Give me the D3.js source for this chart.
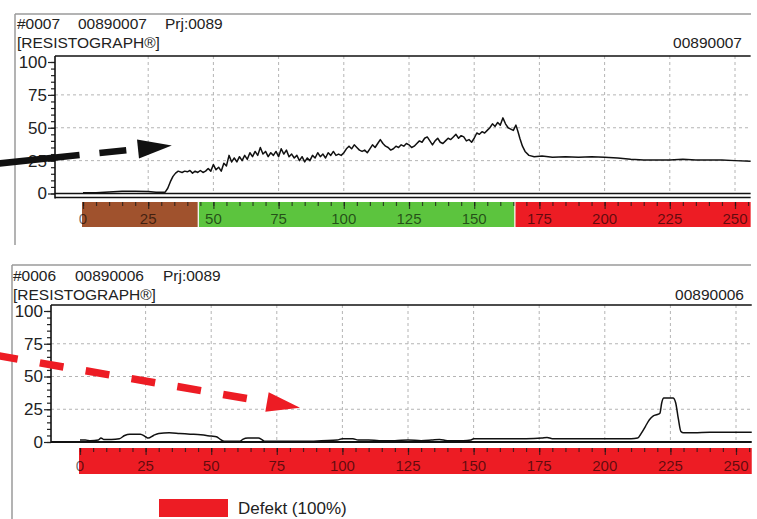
<!DOCTYPE html>
<html>
<head>
<meta charset="utf-8">
<script src="https://cdn.jsdelivr.net/npm/d3@7"></script>
<style>
  body { margin: 0; background: #fff; }
  svg { display: block; font-family: "Liberation Sans", Arial, sans-serif; }
</style>
</head>
<body>
<svg id="chart" width="757" height="519"></svg>
<script>
// ---------- data ----------
const yTickLabels = [0, 25, 50, 75, 100];
const depthTickLabels = [0, 25, 50, 75, 100, 125, 150, 175, 200, 225, 250];
const drillEnd = 256;

const deviceLabel = "[RESISTOGRAPH\u00AE]";
const header0007 = ["#0007", "00890007", "Prj:0089"];
const header0006 = ["#0006", "00890006", "Prj:0089"];

// assessment zones along the drilling depth: [from, to, kind]
const zones0007 = [[0, 44.2, "soft"], [44.2, 165.6, "sound"], [165.6, 256, "defect"]];
const zones0006 = [[0, 256, "defect"]];

// drilling resistance profiles: [depth, amplitude %]
const profile0007 = [
  [0,0.5],[5,0.5],[10,1.2],[15,1.8],[20,1.8],[25,1.5],[28,1],[31.5,1],[32.5,4],[33.5,9],
  [34.5,13],[35.5,15.5],[36.5,17],[38,16],[39,17],[40,16.5],[41,17.5],[42,15.5],[43,17],[44,16],
  [45,17.5],[46,16],[47,17],[48,19],[49,17],[50,22],[51,18],[52,20],[53,17],[54,23],
  [55,21],[56,29],[57,24],[58,27],[59,24],[60,28],[61,25],[62,29],[63,26],[64,31],
  [65,28],[66,32],[67,29],[68,35],[69,30],[70,32],[71,28],[72,31],[73,29],[74,32],
  [75,28],[76,34],[77,30],[78,33],[79,28],[80,30],[81,27],[82,29],[83,25],[84,28],
  [85,24],[86,27],[87,25],[88,29],[89,27],[90,31],[91,28],[92,30],[93,27],[94,31],
  [95,29],[96,32],[97,29],[98,30],[99,29],[100,31],[101,34],[102,36],[103,34],[104,37],
  [105,35],[106,33],[107,32],[108,33],[109,31],[110,34],[111,37],[112,35],[113,38],[114,41],
  [115,38],[116,36],[117,35],[118,33],[119,34],[120,36],[121,35],[122,37],[123,36],[124,38],
  [125,37],[126,35],[127,36],[128,38],[129,40],[130,39],[131,42],[132,43],[133,40],[134,37],
  [135,40],[136,42],[137,39],[138,38],[139,40],[140,42],[141,41],[142,43],[143,45],[144,42],
  [145,44],[146,43],[147,40],[148,41],[149,39],[150,42],[151,46],[152,45],[153,47],[154,46],
  [155,48],[156,50],[157,53],[158,51],[159,54],[160,52],[161,57.5],[162,53],[163,50],[164,49],
  [165,48],[166,52],[166.8,47],[167.5,42],[168.5,36],[169.5,32],[171,29],[173,28],[176,28.5],[180,27.5],
  [185,28],[190,27.5],[195,28],[200,27.5],[205,27],[210,26],[215,25.5],[220,25.5],[225,25.5],[230,26],
  [235,25.5],[240,25.5],[245,25.5],[250,25],[256,24.5]
];

const profile0006 = [
  [0,1.5],[2,1.5],[4,1],[7,1.5],[8,3],[9,2],[12,2],[15,2.5],[17,5],[19,6],
  [23,6],[25,4],[26,3],[28,5],[30,6.5],[34,7],[38,6.5],[42,6],[46,5.5],[50,4.5],
  [52,4],[53.5,2],[55,0.5],[61,0.5],[62,2],[64,3],[68,3],[69.5,1.5],[70.5,0.5],[88,0.5],
  [92,1],[98,1.5],[100,2.5],[104,2.5],[106,1.5],[110,1.5],[114,1],[120,1],[125,1.5],[130,1],
  [134,1.5],[137,2],[140,1],[146,1],[149,1.5],[150,2.5],[160,2.5],[170,2.5],[176,3],[178,3.5],
  [180,2.5],[195,2.5],[210,2.5],[212.5,3],[214,7],[215.5,12],[217,17],[218.5,20],[220,21],[221,22],
  [221.7,30],[222.5,33.5],[226,33.5],[227,30],[228,18],[229,8],[230,7],[234,7],[240,7.5],[250,7.5],
  [256,7.5]
];

const legendItems = [["defect", "Defekt (100%)"]];

// ---------- styles ----------
const zoneColor = { soft: "#a0522d", sound: "#5cc43e", defect: "#ed1c24" };
const gridColor = "#b4b4b4";
const frameColor = "#9a9a9a";
const inkColor = "#222";

// ---------- layout ----------
const panels = [
  {
    header: header0007, profile: profile0007, zones: zones0007, smooth: false,
    frameTop: 14, frameLeft: 15, frameRight: 751, frameBottom: 245,
    headX: [17, 78, 165], headY1: 29, headY2: 48, idRight: 742,
    axisX: 55, plotTop: 56, xRange: [83, 735], yRange: [193.5, 62],
    doubleBase: true, barTop: 202, barBottom: 227, barLabelY: 224
  },
  {
    header: header0006, profile: profile0006, zones: zones0006, smooth: true,
    frameTop: 265, frameLeft: 12, frameRight: 751, frameBottom: 519,
    headX: [13, 75, 163], headY1: 281, headY2: 300, idRight: 744,
    axisX: 51, plotTop: 305, xRange: [80, 736], yRange: [442, 311],
    doubleBase: false, barTop: 448, barBottom: 474, barLabelY: 471
  }
];

const svg = d3.select("#chart");

function drawPanel(p) {
  const g = svg.append("g");
  const x = d3.scaleLinear().domain([0, 250]).range(p.xRange);
  const y = d3.scaleLinear().domain([0, 100]).range(p.yRange);
  const right = x(drillEnd);
  const y0 = y(0);

  // outer frame (top and left edges)
  g.append("line").attr("x1", p.frameLeft).attr("x2", p.frameRight)
    .attr("y1", p.frameTop).attr("y2", p.frameTop)
    .attr("stroke", frameColor).attr("stroke-width", 1.5);
  g.append("line").attr("x1", p.frameLeft).attr("x2", p.frameLeft)
    .attr("y1", p.frameTop).attr("y2", p.frameBottom)
    .attr("stroke", frameColor).attr("stroke-width", 1.5);

  // header lines
  const head = g.append("g").attr("fill", inkColor).style("font-size", "15.5px");
  p.header.forEach((t, i) => head.append("text").attr("x", p.headX[i]).attr("y", p.headY1).text(t));
  head.append("text").attr("x", p.headX[0]).attr("y", p.headY2).text(deviceLabel);
  head.append("text").attr("x", p.idRight).attr("y", p.headY2)
    .attr("text-anchor", "end").text(p.header[1]);

  // grid
  const grid = g.append("g").attr("stroke", gridColor).attr("stroke-width", 1)
    .attr("stroke-dasharray", "3,3");
  grid.selectAll("line.h").data(yTickLabels.filter(v => v > 0 && v < 100)).join("line")
    .attr("x1", p.axisX).attr("x2", right)
    .attr("y1", d => y(d)).attr("y2", d => y(d));
  grid.selectAll("line.v").data(depthTickLabels.filter(v => v > 0)).join("line")
    .attr("x1", d => x(d)).attr("x2", d => x(d))
    .attr("y1", p.plotTop).attr("y2", y0);

  // y axis: minor and major ticks
  const minorY = g.append("g").attr("transform", `translate(${p.axisX},0)`)
    .call(d3.axisLeft(y).tickValues(d3.range(0, 101, 5)).tickSize(4).tickFormat(""));
  const majorY = g.append("g").attr("transform", `translate(${p.axisX},0)`)
    .call(d3.axisLeft(y).tickValues(yTickLabels).tickSize(7).tickPadding(1));
  [minorY, majorY].forEach(a => {
    a.select(".domain").remove();
    a.selectAll("line").attr("stroke", inkColor).attr("stroke-width", 1.2);
  });
  majorY.selectAll("text").attr("fill", inkColor).style("font-size", "17px")
    .style("font-family", "'Liberation Sans', Arial, sans-serif");

  // plot frame
  g.append("line").attr("x1", p.axisX).attr("x2", right)
    .attr("y1", p.plotTop).attr("y2", p.plotTop)
    .attr("stroke", "#111").attr("stroke-width", 1.6);
  g.append("line").attr("x1", p.axisX).attr("x2", p.axisX)
    .attr("y1", p.plotTop).attr("y2", y0 + (p.doubleBase ? 5 : 1))
    .attr("stroke", "#111").attr("stroke-width", 1.6);
  g.append("line").attr("x1", p.axisX).attr("x2", right)
    .attr("y1", y0).attr("y2", y0)
    .attr("stroke", "#111").attr("stroke-width", p.doubleBase ? 1.3 : 2);
  if (p.doubleBase) {
    g.append("line").attr("x1", p.axisX).attr("x2", right)
      .attr("y1", y0 + 4).attr("y2", y0 + 4)
      .attr("stroke", "#111").attr("stroke-width", 1.5);
  }

  // resistance profile
  const line = d3.line()
    .x(d => x(d[0])).y(d => y(d[1]))
    .curve(p.smooth ? d3.curveMonotoneX : d3.curveLinear);
  g.append("path").datum(p.profile).attr("d", line)
    .attr("fill", "none").attr("stroke", "#111").attr("stroke-width", 1.5)
    .attr("stroke-linejoin", "round");

  // assessment bar
  g.append("g").selectAll("rect").data(p.zones).join("rect")
    .attr("x", d => x(d[0]) - (d[0] === 0 ? 1 : 0))
    .attr("y", p.barTop)
    .attr("width", d => x(d[1]) - x(d[0]) + (d[0] === 0 ? 1 : 0))
    .attr("height", p.barBottom - p.barTop)
    .attr("fill", d => zoneColor[d[2]]);
  // zone separators
  g.append("g").selectAll("line").data(p.zones.slice(1)).join("line")
    .attr("x1", d => x(d[0])).attr("x2", d => x(d[0]))
    .attr("y1", p.barTop).attr("y2", p.barBottom)
    .attr("stroke", "#fff").attr("stroke-width", 1.2);

  const minorX = g.append("g").attr("transform", `translate(0,${p.barTop})`)
    .call(d3.axisBottom(x).tickValues(d3.range(0, drillEnd, 5)).tickSize(4).tickFormat(""));
  const majorX = g.append("g").attr("transform", `translate(0,${p.barTop})`)
    .call(d3.axisBottom(x).tickValues(depthTickLabels).tickSize(7).tickFormat(""));
  [minorX, majorX].forEach(a => {
    a.select(".domain").remove();
    a.selectAll("line").attr("stroke", "#1a1a1a").attr("stroke-opacity", 0.75).attr("stroke-width", 1.2);
  });
  g.append("g").selectAll("text").data(depthTickLabels).join("text")
    .attr("x", d => x(d)).attr("y", p.barLabelY)
    .attr("text-anchor", "middle")
    .attr("fill", "#000").attr("fill-opacity", 0.6)
    .style("font-size", "15px")
    .text(d => d);
}

panels.forEach(drawPanel);

// ---------- annotation arrows ----------
function dashedArrow(from, to, head, width, dash, color) {
  const dx = to[0] - from[0], dy = to[1] - from[1];
  const len = Math.hypot(dx, dy), ux = dx / len, uy = dy / len;
  svg.append("line")
    .attr("x1", from[0]).attr("y1", from[1]).attr("x2", to[0]).attr("y2", to[1])
    .attr("stroke", color).attr("stroke-width", width)
    .attr("stroke-dasharray", dash);
  const tip = [to[0] + ux * head[0], to[1] + uy * head[0]];
  const a = [to[0] - uy * head[1], to[1] + ux * head[1]];
  const b = [to[0] + uy * head[1], to[1] - ux * head[1]];
  svg.append("path").attr("d", `M${a}L${tip}L${b}Z`).attr("fill", color);
}
dashedArrow([-4, 163.8], [138, 149], [34, 9.5], 6.5, "84,20,27,30", "#111");
dashedArrow([-6, 355], [267, 402], [33.5, 10], 7.5, "24,22.5", "#ed1c24");

// ---------- legend ----------
const legend = svg.append("g");
legendItems.forEach((it, i) => {
  legend.append("rect").attr("x", 159).attr("y", 499 + i * 22)
    .attr("width", 69).attr("height", 18).attr("fill", zoneColor[it[0]]);
  legend.append("text").attr("x", 238).attr("y", 514 + i * 22)
    .attr("fill", inkColor).style("font-size", "17px").text(it[1]);
});
</script>
</body>
</html>
